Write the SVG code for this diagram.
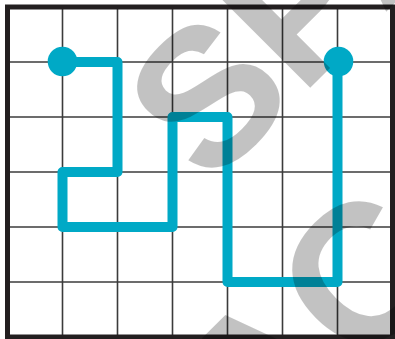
<svg xmlns="http://www.w3.org/2000/svg" width="395" height="339" viewBox="0 0 395 339">
<defs>
<style>
.grid line{stroke:#3b3b3b;stroke-width:1.6}
.border{fill:none;stroke:#231f20;stroke-width:5}
.route{fill:none;stroke:#00a9c6;stroke-width:10;stroke-linejoin:round;stroke-linecap:butt}
.dot{fill:#00a9c6}
.wm{font-family:"Liberation Sans",Arial,sans-serif;font-weight:bold;font-size:195px;fill:#000;fill-opacity:0.24}
</style>
</defs>
<rect width="395" height="339" fill="#fff"/>
<g id="grid" class="grid">
<line x1="62.5" y1="7" x2="62.5" y2="337"/>
<line x1="117.5" y1="7" x2="117.5" y2="337"/>
<line x1="172.5" y1="7" x2="172.5" y2="337"/>
<line x1="227.5" y1="7" x2="227.5" y2="337"/>
<line x1="282.5" y1="7" x2="282.5" y2="337"/>
<line x1="337.5" y1="7" x2="337.5" y2="337"/>
<line x1="7.5" y1="62" x2="392.5" y2="62"/>
<line x1="7.5" y1="117" x2="392.5" y2="117"/>
<line x1="7.5" y1="172" x2="392.5" y2="172"/>
<line x1="7.5" y1="227" x2="392.5" y2="227"/>
<line x1="7.5" y1="282" x2="392.5" y2="282"/>
</g>
<rect id="frame" class="border" x="7.5" y="7" width="385" height="330"/>
<g id="connectors">
<path class="route" d="M62.5,62 H117.5 V172 H62.5 V227 H172.5 V117 H227.5 V282 H337.5 V62"/>
</g>
<g id="start"><circle class="dot" cx="62.5" cy="61.5" r="14.8"/></g>
<g id="end"><circle class="dot" cx="338.5" cy="61.5" r="14.8"/></g>
<g id="watermark" class="wm">
<text transform="translate(209,189) rotate(-45)">SPACE</text>
<text transform="translate(85,645) rotate(-45)">SPAC<tspan dx="40">E</tspan></text>
</g>
</svg>
